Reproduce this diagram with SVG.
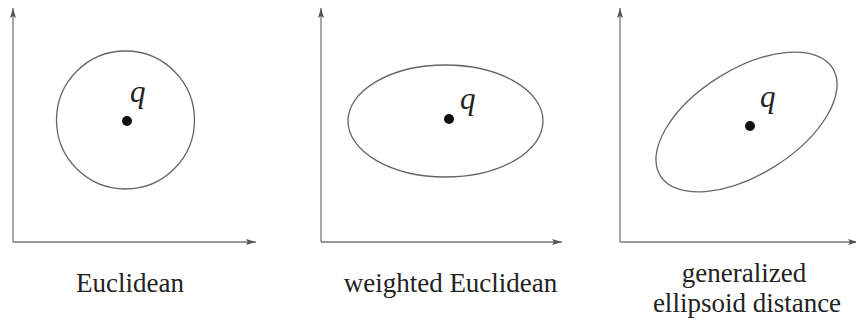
<svg xmlns="http://www.w3.org/2000/svg" width="856" height="325" viewBox="0 0 856 325">
<style>
.ax{stroke:#777;stroke-width:1.3;fill:none;marker-end:url(#ah)}
.el{stroke:#666;stroke-width:1.3;fill:none}
.dot{fill:#111}
.q{font-family:"Liberation Serif",serif;font-style:italic;font-size:31px;fill:#222}
.lb{font-family:"Liberation Serif",serif;font-size:27px;fill:#222;text-anchor:middle}
</style>
<defs>
<marker id="ah" viewBox="0 0 10 6" refX="10" refY="3" markerWidth="10" markerHeight="6" markerUnits="userSpaceOnUse" orient="auto">
<path d="M0,0 L10,3 L0,6 L2,3 Z" fill="#555"/>
</marker>
</defs>
<g id="connectors">
<path class="ax" d="M13,242 L13,8"/>
<path class="ax" d="M13,242 L256,242"/>
<path class="ax" d="M321,242 L321,8"/>
<path class="ax" d="M321,242 L562,242"/>
<path class="ax" d="M620,242 L620,8"/>
<path class="ax" d="M620,242 L858,242"/>
</g>
<g id="euclidean">
<circle class="el" cx="125.5" cy="120" r="69"/>
<circle class="dot" cx="127" cy="121" r="5"/>
<text class="q" x="130" y="102">q</text>
<text class="lb" x="130" y="292">Euclidean</text>
</g>
<g id="weighted">
<ellipse class="el" cx="445.5" cy="121" rx="97.5" ry="56"/>
<circle class="dot" cx="449" cy="119" r="5"/>
<text class="q" x="460" y="109">q</text>
<text class="lb" x="450.5" y="292">weighted Euclidean</text>
</g>
<g id="generalized">
<ellipse class="el" cx="746.5" cy="122" rx="101.6" ry="52.6" transform="rotate(-32 746.5 122)"/>
<circle class="dot" cx="750" cy="126" r="5"/>
<text class="q" x="760" y="107">q</text>
<text class="lb" x="744" y="282">generalized</text>
<text class="lb" x="747" y="312">ellipsoid distance</text>
</g>
</svg>
